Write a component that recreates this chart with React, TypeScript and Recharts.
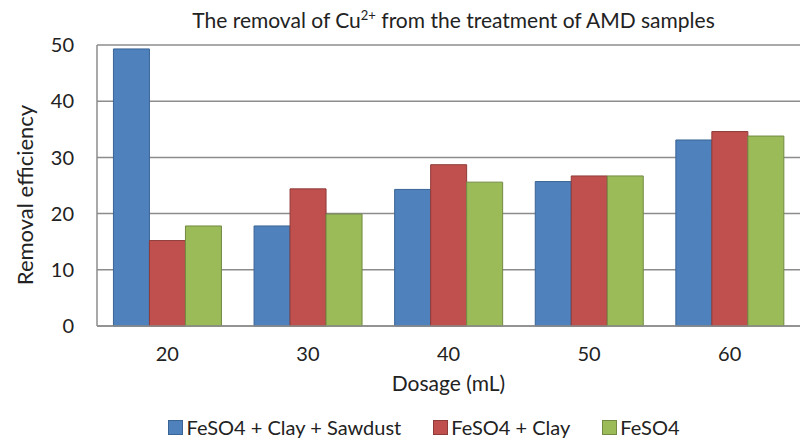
import React from "react";
import {
  BarChart,
  Bar,
  XAxis,
  YAxis,
  CartesianGrid,
  Legend,
} from "recharts";

const dosages = ["20", "30", "40", "50", "60"];
const claySawdust = [49.3, 17.8, 24.3, 25.7, 33.1];
const clay = [15.2, 24.4, 28.7, 26.7, 34.6];
const feso4 = [17.8, 19.9, 25.6, 26.7, 33.8];
const yTicks = [0, 10, 20, 30, 40, 50];

const series = [
  { key: "claySawdust", name: "FeSO4 + Clay + Sawdust", fill: "#4F81BD", stroke: "#3A6494" },
  { key: "clay", name: "FeSO4 + Clay", fill: "#C0504D", stroke: "#8E3B39" },
  { key: "feso4", name: "FeSO4", fill: "#9BBB59", stroke: "#728A42" },
];

const data = dosages.map((d, i) => ({
  dosage: d,
  claySawdust: claySawdust[i],
  clay: clay[i],
  feso4: feso4[i],
}));

const FONT = "Lato, 'Noto Sans', sans-serif";
const GRID = "#8c8c8c";
const TEXT = "#222";

const renderLegend = () => (
  <div
    style={{
      display: "flex",
      justifyContent: "center",
      gap: 32,
      paddingTop: 12,
      paddingLeft: 48,
      lineHeight: "24px",
      fontFamily: FONT,
      fontSize: 20,
      color: TEXT,
    }}
  >
    {series.map((s) => (
      <span key={s.key} style={{ display: "flex", alignItems: "center" }}>
        <span
          style={{
            width: 15,
            height: 15,
            background: s.fill,
            border: `1px solid ${s.stroke}`,
            marginRight: 3,
            boxSizing: "border-box",
          }}
        />
        {s.name}
      </span>
    ))}
  </div>
);

// y axis title, centred a little below the plot middle as in the original
const YTitle = () => (
  <text
    x={24}
    y={195}
    transform="rotate(-90 24 195)"
    textAnchor="middle"
    dominantBaseline="central"
    fill={TEXT}
    fontSize={22}
    fontFamily={FONT}
  >
    Removal efficiency
  </text>
);

export default function App() {
  return (
    <div style={{ position: "absolute", left: 0, top: 0, width: 801, height: 439, background: "#fff" }}>
      <div
        style={{
          position: "absolute",
          top: 7,
          left: 102,
          width: 703,
          textAlign: "center",
          fontFamily: FONT,
          fontSize: 21,
          lineHeight: 1.2,
          color: TEXT,
          whiteSpace: "nowrap",
        }}
      >
        The removal of Cu<sup style={{ fontSize: 13 }}>2+</sup> from the treatment of AMD samples
      </div>
      <BarChart
        width={801}
        height={439}
        data={data}
        margin={{ top: 45, right: 1, left: 0, bottom: 0 }}
        barCategoryGap="11.7%"
        barGap={0}
      >
        <CartesianGrid vertical={false} stroke={GRID} strokeWidth={1.5} />
        <XAxis
          dataKey="dosage"
          height={77}
          axisLine={{ stroke: GRID, strokeWidth: 1.5 }}
          tickLine={false}
          tickSize={0}
          tickMargin={21}
          tick={{ fill: TEXT, fontSize: 20, fontFamily: FONT }}
          label={{
            value: "Dosage (mL)",
            position: "insideBottom",
            offset: 12,
            style: { fill: TEXT, fontSize: 21, fontFamily: FONT },
          }}
        />
        <YAxis
          width={97}
          domain={[0, 50]}
          ticks={yTicks}
          axisLine={{ stroke: GRID, strokeWidth: 1.5 }}
          tickLine={false}
          tickSize={0}
          tickMargin={23}
          tick={{ fill: TEXT, fontSize: 20, fontFamily: FONT }}
          label={{ content: () => <YTitle /> }}
        />
        <Legend verticalAlign="bottom" height={36} content={renderLegend} />
        {series.map((s) => (
          <Bar
            key={s.key}
            dataKey={s.key}
            name={s.name}
            fill={s.fill}
            stroke={s.stroke}
            strokeWidth={1}
            isAnimationActive={false}
          />
        ))}
      </BarChart>
    </div>
  );
}
